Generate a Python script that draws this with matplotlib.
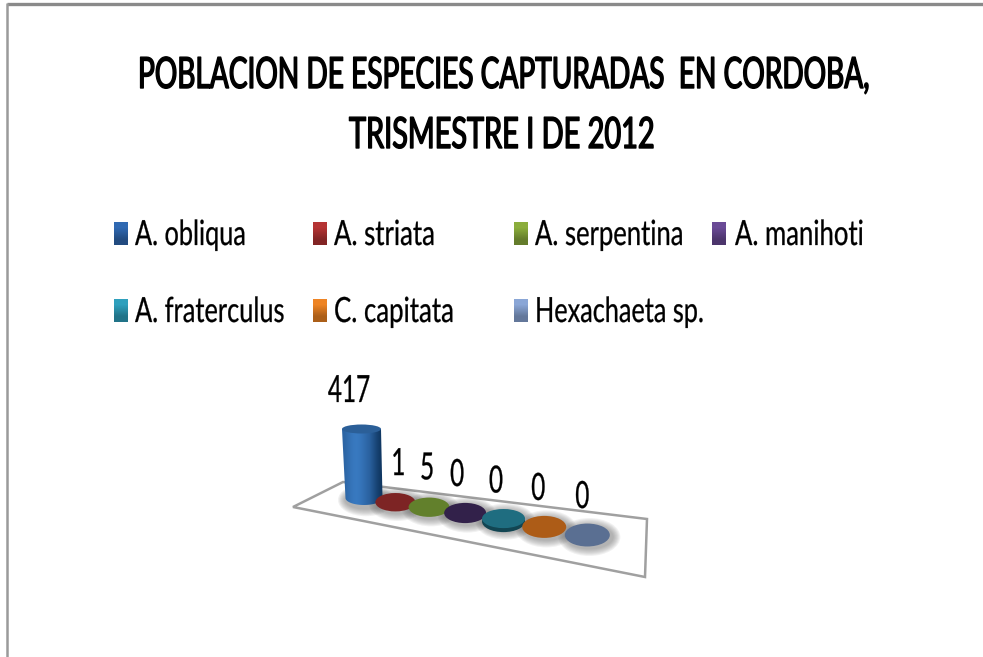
import numpy as np
import matplotlib
matplotlib.use('Agg')
import matplotlib.pyplot as plt
from matplotlib.colors import LinearSegmentedColormap, to_rgb
from matplotlib.patches import Ellipse, Polygon
from matplotlib.patheffects import AbstractPathEffect
from matplotlib.transforms import Affine2D

species = ['A. obliqua', 'A. striata', 'A. serpentina', 'A. manihoti',
           'A. fraterculus', 'C. capitata', 'Hexachaeta sp.']
counts = [417, 1, 5, 0, 0, 0, 0]
title_lines = ['POBLACION DE ESPECIES CAPTURADAS  EN CORDOBA,', 'TRISMESTRE I DE 2012']

legend_colors = ['#3069b2', '#b53434', '#8bad3c', '#6a4a96', '#2fa0bd', '#ee8424', '#8aa6d6']
disc_colors = ['#2a619f', '#7d2424', '#62802c', '#32214a', '#1f6d80', '#ad5c17', '#5a6f92']

# pixel layout of the texts: left, right, baseline
title_pos = [(138, 868, 88), (349, 654, 148)]
legend_swatch_x = [114, 313, 514, 712, 114, 313, 514]
legend_left = [135, 334, 535, 735, 135, 334, 535]
legend_right = [246, 435, 684, 864, 285, 454, 704]
legend_base = [245, 245, 245, 245, 322, 322, 322]
label_dx = [-15, 3, -2, -8, -7.5, -6, -5]
FONT = 'Lato'


class Squeeze(AbstractPathEffect):
    # stretch the glyphs up from the baseline, the reference text is very tall and narrow
    def __init__(self, sy, lw=0.0):
        super().__init__()
        self.sy = sy
        self.lw = lw

    def draw_path(self, renderer, gc, tpath, affine, rgbFace):
        gc0 = renderer.new_gc()
        gc0.copy_properties(gc)
        gc0.set_linewidth(self.lw)
        gc0.set_foreground('black')
        renderer.draw_path(gc0, tpath, Affine2D().scale(1, self.sy) + affine, rgbFace)
        gc0.restore()


def base_x(i):
    return 364 + 30.2 * i + 1.17 * i * i


def base_y(i):
    return 498 + 3.83 * i + 0.39 * i * i


def bar_h(v):
    return v * 69.0 / 417.0


fig = plt.figure(figsize=(9.83, 6.57), dpi=100)
ax = fig.add_axes([0, 0, 1, 1])
ax.set_xlim(0, 983)
ax.set_ylim(657, 0)
ax.axis('off')
renderer = fig.canvas.get_renderer()


def put_text(s, left, right, base, cap_px, lw=0.0):
    t = ax.text(left, base, s, ha='left', va='baseline', fontsize=20, family=FONT,
                color='black', zorder=6)
    wide = t.get_window_extent(renderer).width
    fs = 20 * (right - left) / wide
    t.set_fontsize(fs)
    t.set_path_effects([Squeeze(cap_px / (0.72 * fs * 100 / 72), lw)])
    return t


def put_center(s, xc, base, fs, cap_px):
    t = ax.text(xc, base, s, ha='center', va='baseline', fontsize=fs, family=FONT,
                color='black', zorder=6)
    t.set_path_effects([Squeeze(cap_px / (0.72 * fs * 100 / 72), 0.2)])
    return t


# outer frame
ax.plot([983, 7], [4, 4], color='#8a8a8a', lw=2.4, solid_capstyle='butt')
ax.plot([7, 7], [3, 657], color='#9a9a9a', lw=1.8, solid_capstyle='butt')

for line, (l, r, b) in zip(title_lines, title_pos):
    put_text(line, l, r, b, 31, lw=1.0)

for name, c, sx, l, r, b in zip(species, legend_colors, legend_swatch_x,
                                legend_left, legend_right, legend_base):
    dark = tuple(0.72 * np.array(to_rgb(c)))
    cmap = LinearSegmentedColormap.from_list('sw', [c, dark])
    ax.imshow([[0], [1]], extent=(sx, sx + 14, b, b - 23), aspect='auto', cmap=cmap,
              interpolation='bilinear')
    put_text(name, l, r, b, 25, lw=0.2)
ax.set_xlim(0, 983)
ax.set_ylim(657, 0)

# floor
ax.add_patch(Polygon([(293, 507), (343, 482), (647, 519), (645, 577)], closed=True,
                     facecolor='white', edgecolor='#a0a0a0', lw=1.8, zorder=1))

for i, (v, c) in enumerate(zip(counts, disc_colors)):
    x = base_x(i)
    y = base_y(i)
    w = 39 + 1.0 * i
    h = 17.5 + 0.9 * i
    # soft shadow
    for k in range(7):
        ax.add_patch(Ellipse((x + 2, y + 2), w + 17 - 2.2 * k, h + 15 - 2.2 * k,
                             color='#6a6a6a', alpha=0.09, lw=0, zorder=2))
    t = bar_h(v)
    if v > 10:
        a = np.linspace(0, np.pi, 30)
        xs = x + 18.5 * np.cos(a)
        ys = y + 7 * np.sin(a)
        body = Polygon(np.vstack([np.column_stack([xs, ys]),
                                  [(x - 22, y - t), (x + 17, y - t)]]),
                       closed=True, lw=0, fc='none', zorder=3)
        ax.add_patch(body)
        cmap = LinearSegmentedColormap.from_list('b', ['#0f3660', '#2a619f', '#3a7cc4'])
        grad = np.array([[0.55, 0.85, 1.0, 0.8, 0.55, 0.3, 0.0]])
        im = ax.imshow(grad, extent=(x - 22, x + 19, y + 8, y - t), aspect='auto', cmap=cmap,
                       interpolation='bicubic', vmin=0, vmax=1, zorder=3)
        im.set_clip_path(body)
        ax.add_patch(Ellipse((x - 2.5, y - t), 39, 9, color='#2b5f98', lw=0, zorder=4))
    else:
        if i == 4:
            ax.add_patch(Ellipse((x, y + 2), w, h, color='#124552', lw=0, zorder=3))
            ax.add_patch(Ellipse((x, y - 1), w, h - 2, color=c, lw=0, zorder=3))
        else:
            ax.add_patch(Ellipse((x, y), w, h, color=c, lw=0, zorder=3))
ax.set_xlim(0, 983)
ax.set_ylim(657, 0)

for i, v in enumerate(counts):
    put_center(str(v), base_x(i) + label_dx[i], base_y(i) - bar_h(v) - 27, 17.5, 27)

fig.savefig('out.png', dpi=100)
